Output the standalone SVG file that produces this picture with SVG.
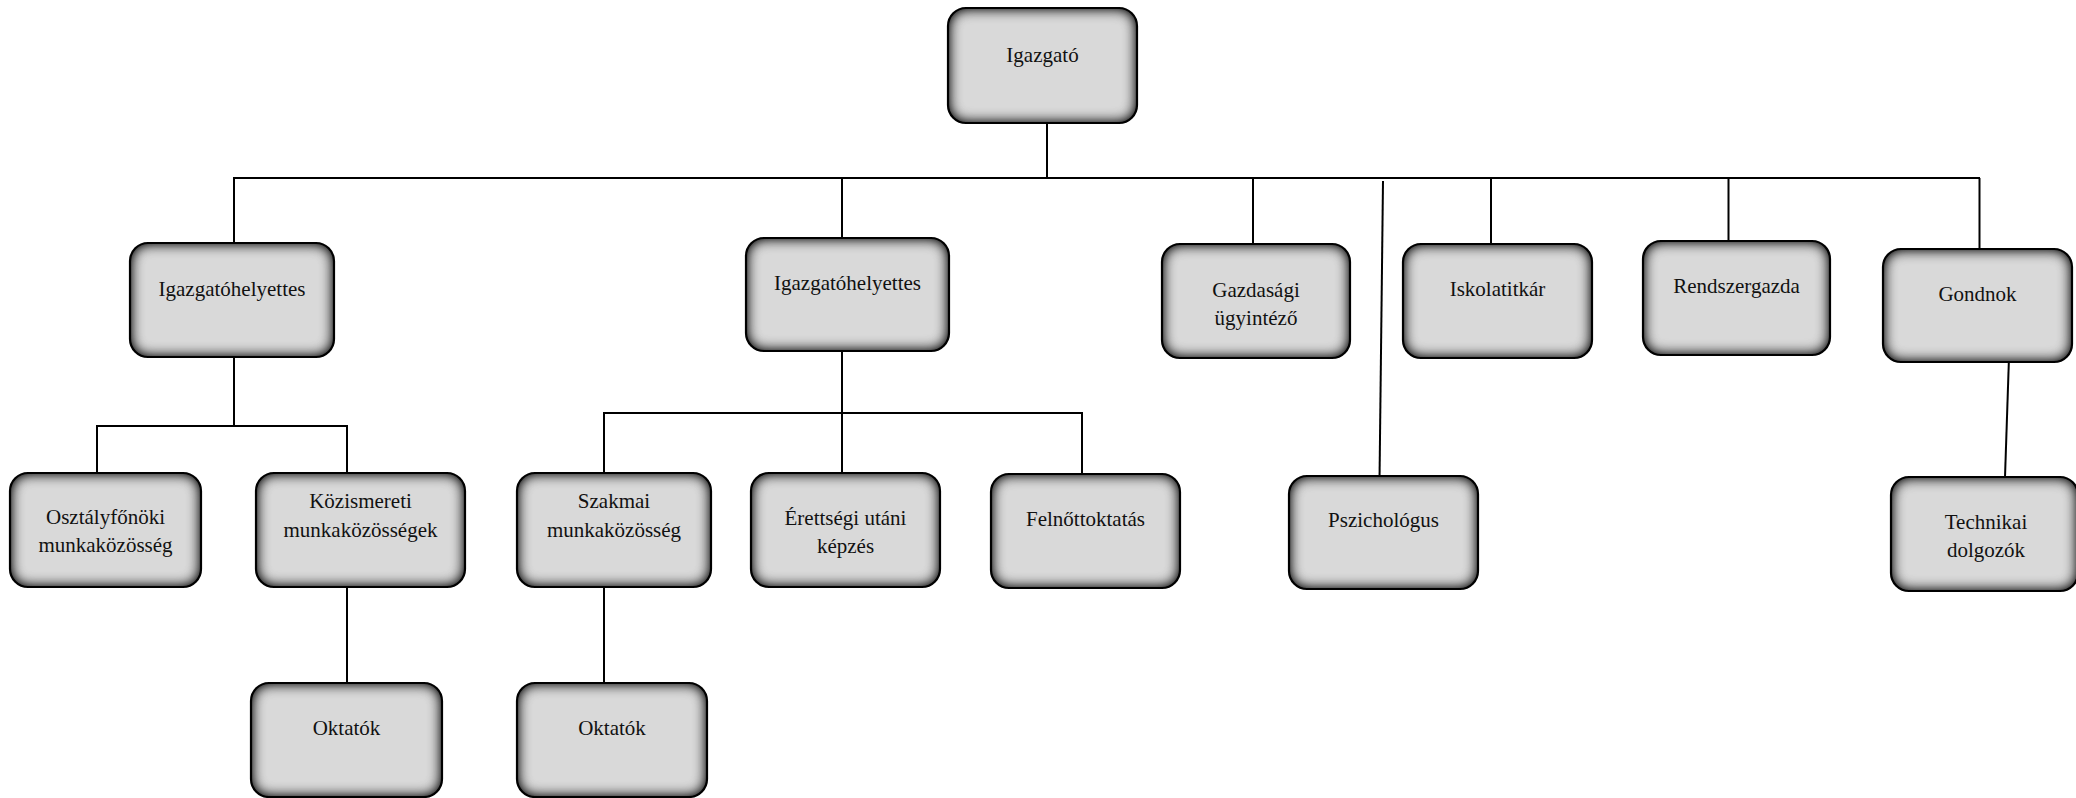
<svg xmlns="http://www.w3.org/2000/svg" width="2076" height="798" viewBox="0 0 2076 798">
<defs>
<style>
.fill{fill:#d9d9d9}
.frame{fill:none;stroke:#000;stroke-width:2.2}
.lbl{font-size:21px;text-anchor:middle;fill:#111}
.conn line{stroke:#000;stroke-width:2}
</style>
<filter id="inset" x="-5%" y="-5%" width="110%" height="110%" color-interpolation-filters="sRGB">
<feGaussianBlur in="SourceAlpha" stdDeviation="7" result="b"/>
<feComposite in="SourceAlpha" in2="b" operator="arithmetic" k1="0" k2="1.5" k3="-1.5" k4="0" result="edge"/>
<feFlood flood-color="#1a1a1a" flood-opacity="1" result="fl"/>
<feComposite in="fl" in2="edge" operator="in" result="sh"/>
<feMerge><feMergeNode in="SourceGraphic"/><feMergeNode in="sh"/></feMerge>
</filter>
</defs>
<rect width="2076" height="798" fill="#fff"/>
<g id="connectors" class="conn">
<line x1="1047" y1="123" x2="1047" y2="178"/>
<line x1="233" y1="178" x2="1980" y2="178"/>
<line x1="234" y1="178" x2="234" y2="243"/>
<line x1="842" y1="178" x2="842" y2="238"/>
<line x1="1253" y1="178" x2="1253" y2="244"/>
<line x1="1383" y1="181" x2="1379.5" y2="481"/>
<line x1="1491" y1="178" x2="1491" y2="244"/>
<line x1="1728.5" y1="178" x2="1728.5" y2="241"/>
<line x1="1979.5" y1="178" x2="1979.5" y2="249"/>
<line x1="2009" y1="357" x2="2005" y2="477"/>
<line x1="234" y1="357" x2="234" y2="426"/>
<line x1="96" y1="426" x2="348" y2="426"/>
<line x1="97" y1="426" x2="97" y2="473"/>
<line x1="347" y1="426" x2="347" y2="473"/>
<line x1="347" y1="587" x2="347" y2="683"/>
<line x1="842" y1="351" x2="842" y2="413"/>
<line x1="603" y1="413" x2="1083" y2="413"/>
<line x1="604" y1="413" x2="604" y2="473"/>
<line x1="842" y1="413" x2="842" y2="473"/>
<line x1="1082" y1="413" x2="1082" y2="474"/>
<line x1="604" y1="587" x2="604" y2="683"/>
</g>
<g font-family="Liberation Serif, Times New Roman, serif">
<g id="n-igazgato"><rect class="fill" filter="url(#inset)" x="948" y="8" width="189" height="115" rx="18"/><rect class="frame" x="948" y="8" width="189" height="115" rx="18"/><text class="lbl" x="1042.5" y="62">Igazgató</text></g>
<g id="n-ih1"><rect class="fill" filter="url(#inset)" x="130" y="243" width="204" height="114" rx="18"/><rect class="frame" x="130" y="243" width="204" height="114" rx="18"/><text class="lbl" x="232" y="296">Igazgatóhelyettes</text></g>
<g id="n-ih2"><rect class="fill" filter="url(#inset)" x="746" y="238" width="203" height="113" rx="18"/><rect class="frame" x="746" y="238" width="203" height="113" rx="18"/><text class="lbl" x="847.5" y="290">Igazgatóhelyettes</text></g>
<g id="n-gazdasagi"><rect class="fill" filter="url(#inset)" x="1162" y="244" width="188" height="114" rx="18"/><rect class="frame" x="1162" y="244" width="188" height="114" rx="18"/><text class="lbl" x="1256" y="297">Gazdasági</text><text class="lbl" x="1256" y="325">ügyintéző</text></g>
<g id="n-iskolatitkar"><rect class="fill" filter="url(#inset)" x="1403" y="244" width="189" height="114" rx="18"/><rect class="frame" x="1403" y="244" width="189" height="114" rx="18"/><text class="lbl" x="1497.5" y="296">Iskolatitkár</text></g>
<g id="n-rendszergazda"><rect class="fill" filter="url(#inset)" x="1643" y="241" width="187" height="114" rx="18"/><rect class="frame" x="1643" y="241" width="187" height="114" rx="18"/><text class="lbl" x="1736.5" y="293">Rendszergazda</text></g>
<g id="n-gondnok"><rect class="fill" filter="url(#inset)" x="1883" y="249" width="189" height="113" rx="18"/><rect class="frame" x="1883" y="249" width="189" height="113" rx="18"/><text class="lbl" x="1977.5" y="301">Gondnok</text></g>
<g id="n-osztalyfonoki"><rect class="fill" filter="url(#inset)" x="10" y="473" width="191" height="114" rx="18"/><rect class="frame" x="10" y="473" width="191" height="114" rx="18"/><text class="lbl" x="105.5" y="524">Osztályfőnöki</text><text class="lbl" x="105.5" y="552">munkaközösség</text></g>
<g id="n-kozismereti"><rect class="fill" filter="url(#inset)" x="256" y="473" width="209" height="114" rx="18"/><rect class="frame" x="256" y="473" width="209" height="114" rx="18"/><text class="lbl" x="360.5" y="508">Közismereti</text><text class="lbl" x="360.5" y="537">munkaközösségek</text></g>
<g id="n-szakmai"><rect class="fill" filter="url(#inset)" x="517" y="473" width="194" height="114" rx="18"/><rect class="frame" x="517" y="473" width="194" height="114" rx="18"/><text class="lbl" x="614" y="508">Szakmai</text><text class="lbl" x="614" y="537">munkaközösség</text></g>
<g id="n-erettsegi"><rect class="fill" filter="url(#inset)" x="751" y="473" width="189" height="114" rx="18"/><rect class="frame" x="751" y="473" width="189" height="114" rx="18"/><text class="lbl" x="845.5" y="525">Érettségi utáni</text><text class="lbl" x="845.5" y="553">képzés</text></g>
<g id="n-felnott"><rect class="fill" filter="url(#inset)" x="991" y="474" width="189" height="114" rx="18"/><rect class="frame" x="991" y="474" width="189" height="114" rx="18"/><text class="lbl" x="1085.5" y="526">Felnőttoktatás</text></g>
<g id="n-pszichologus"><rect class="fill" filter="url(#inset)" x="1289" y="476" width="189" height="113" rx="18"/><rect class="frame" x="1289" y="476" width="189" height="113" rx="18"/><text class="lbl" x="1383.5" y="527">Pszichológus</text></g>
<g id="n-technikai"><rect class="fill" filter="url(#inset)" x="1891" y="477" width="187" height="114" rx="18"/><rect class="frame" x="1891" y="477" width="187" height="114" rx="18"/><text class="lbl" x="1986" y="529">Technikai</text><text class="lbl" x="1986" y="557">dolgozók</text></g>
<g id="n-oktatok1"><rect class="fill" filter="url(#inset)" x="251" y="683" width="191" height="114" rx="18"/><rect class="frame" x="251" y="683" width="191" height="114" rx="18"/><text class="lbl" x="346.5" y="735">Oktatók</text></g>
<g id="n-oktatok2"><rect class="fill" filter="url(#inset)" x="517" y="683" width="190" height="114" rx="18"/><rect class="frame" x="517" y="683" width="190" height="114" rx="18"/><text class="lbl" x="612" y="735">Oktatók</text></g>
</g>
</svg>
